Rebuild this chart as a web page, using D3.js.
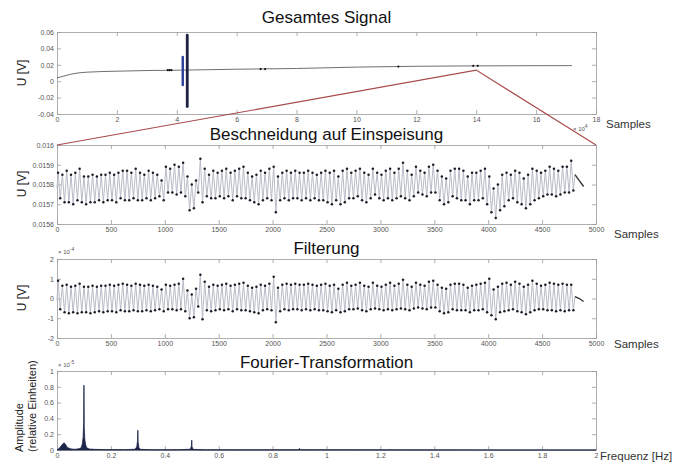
<!DOCTYPE html>
<html>
<head>
<meta charset="UTF-8">
<title>Signal</title>
<script src="https://d3js.org/d3.v7.min.js"></script>
<style>
    body { margin: 0; background: #fff; }
    svg { display: block; font-family: "Liberation Sans", Arial, sans-serif; }
    .ax text { font-size: 7px; fill: #555; font-family: "Liberation Sans", Arial, sans-serif; }
    .ax line, .ax path { stroke: #9a9a9a; stroke-width: 0.8; }
</style>
</head>
<body>
<div id="chart"></div>
<script>

    // ---- Gesamtes Signal (x in 1e4 samples, U in V) ----
    var rawX = [0, 0.3, 0.6, 1, 2, 3, 4, 5, 6, 8, 10, 12, 14, 16, 17.2];
    var rawU = [0.004, 0.007, 0.0095, 0.011, 0.0122, 0.013, 0.0134, 0.014, 0.0146, 0.0155, 0.0172, 0.0182, 0.0187, 0.0189, 0.019];
    var spikeX = [4.2, 4.35];
    var spikeLo = [-0.0047, -0.031];
    var spikeHi = [0.0297, 0.0563];
    var markX = [3.7, 3.76, 3.82, 6.8, 6.95, 11.4, 13.9, 14.05];
    var markU = [0.0135, 0.0135, 0.0135, 0.0148, 0.0148, 0.0178, 0.0188, 0.0188];
    var zoomAt = { x: 14, u: 0.0135 };   // where the cut window sits in the whole signal

    // ---- Beschneidung auf Einspeisung (U in mV), one peak and one trough per cycle ----
    var cycleLen = 40;
    var peaks2 = [15.86, 15.85, 15.87, 15.85, 15.86, 15.88, 15.84, 15.84, 15.85, 15.84, 15.85,
        15.85, 15.86, 15.85, 15.86, 15.87, 15.87, 15.86, 15.88, 15.86, 15.85,
        15.87, 15.86, 15.85, 15.82,
        15.89, 15.88, 15.90, 15.89, 15.91,
        15.84, 15.80, 15.82, 15.93, 15.88, 15.85,
        15.87, 15.86, 15.87, 15.88, 15.86, 15.87, 15.88, 15.89, 15.86,
        15.84, 15.85, 15.87, 15.86, 15.88,
        15.89, 15.84,
        15.86, 15.87, 15.86, 15.87, 15.86, 15.86, 15.87, 15.86, 15.85, 15.86,
        15.87, 15.86, 15.87, 15.84, 15.87, 15.88, 15.86, 15.87, 15.88, 15.86,
        15.85, 15.88, 15.86, 15.85, 15.87, 15.88, 15.86, 15.88, 15.91, 15.87,
        15.85, 15.89, 15.87, 15.86, 15.89, 15.90, 15.87, 15.84, 15.83, 15.87,
        15.88, 15.88, 15.87, 15.84, 15.86, 15.86, 15.87, 15.88, 15.84, 15.78,
        15.80, 15.85, 15.86, 15.85, 15.87, 15.86, 15.83, 15.85, 15.88, 15.87,
        15.86, 15.87, 15.89, 15.88, 15.87, 15.89, 15.89, 15.92];
    var troughs2 = [15.73, 15.71, 15.71, 15.70, 15.72, 15.71, 15.70, 15.71, 15.71, 15.72, 15.71,
        15.72, 15.72, 15.71, 15.73, 15.72, 15.72, 15.73, 15.72, 15.72, 15.73,
        15.72, 15.73, 15.74, 15.72,
        15.76, 15.76, 15.75, 15.76, 15.74,
        15.67, 15.68, 15.76, 15.71, 15.74, 15.73,
        15.73, 15.74, 15.73, 15.74, 15.72, 15.74, 15.73, 15.73, 15.72,
        15.71, 15.70, 15.72, 15.73, 15.72,
        15.66, 15.72,
        15.73, 15.72, 15.73, 15.73, 15.72, 15.73, 15.72, 15.73, 15.72, 15.72,
        15.71, 15.70, 15.72, 15.70, 15.71, 15.73, 15.73, 15.74, 15.72, 15.71,
        15.73, 15.75, 15.73, 15.72, 15.73, 15.72, 15.73, 15.74, 15.73, 15.72,
        15.74, 15.76, 15.75, 15.74, 15.76, 15.76, 15.72, 15.70, 15.71, 15.74,
        15.73, 15.72, 15.72, 15.70, 15.72, 15.72, 15.73, 15.70, 15.66, 15.63,
        15.67, 15.69, 15.72, 15.73, 15.71, 15.70, 15.68, 15.70, 15.72, 15.73,
        15.74, 15.75, 15.75, 15.74, 15.75, 15.76, 15.76, 15.77];
    var start2 = 15.78;
    var tailS2 = [4805, 4845, 4885];
    var tailU2 = [15.85, 15.82, 15.79];

    // ---- Filterung (U in 1e-4 V) ----
    var peaks3 = [0.9, 0.65, 0.7, 0.6, 0.65, 0.75, 0.6, 0.6, 0.65, 0.6, 0.65,
        0.65, 0.7, 0.65, 0.7, 0.75, 0.7, 0.65, 0.75, 0.7, 0.65,
        0.7, 0.65, 0.6, 0.45,
        0.7, 0.65, 0.7, 0.75, 1.0,
        0.4, 0.2, 0.5, 1.2, 0.85, 0.6,
        0.7, 0.65, 0.7, 0.75, 0.65, 0.7, 0.75, 0.8, 0.65,
        0.55, 0.6, 0.7, 0.65, 0.75,
        1.1, 0.55,
        0.7, 0.75, 0.7, 0.75, 0.7, 0.7, 0.75, 0.7, 0.65, 0.7,
        0.75, 0.65, 0.7, 0.5, 0.7, 0.8, 0.65, 0.7, 0.8, 0.65,
        0.6, 0.8, 0.65, 0.6, 0.7, 0.8, 0.65, 0.75, 0.95, 0.7,
        0.6, 0.8, 0.7, 0.65, 0.85, 0.9, 0.7, 0.55, 0.5, 0.7,
        0.75, 0.75, 0.7, 0.55, 0.65, 0.7, 0.75, 0.8, 1.0, 0.45,
        0.6, 0.75, 0.8, 0.7, 0.85, 0.75, 0.6, 0.7, 0.9, 0.75,
        0.65, 0.7, 0.8, 0.75, 0.7, 0.75, 0.7, 0.7];
    var troughs3 = [-0.55, -0.7, -0.75, -0.7, -0.75, -0.7, -0.7, -0.75, -0.7, -0.65, -0.7,
        -0.65, -0.65, -0.7, -0.6, -0.65, -0.65, -0.6, -0.65, -0.65, -0.6,
        -0.65, -0.6, -0.55, -0.65,
        -0.55, -0.55, -0.6, -0.55, -0.65,
        -1.0, -0.95, -0.4, -1.05, -0.6, -0.65,
        -0.6, -0.55, -0.6, -0.55, -0.65, -0.55, -0.6, -0.6, -0.65,
        -0.7, -0.75, -0.6, -0.55, -0.6,
        -1.2, -0.65,
        -0.55, -0.6, -0.55, -0.55, -0.6, -0.55, -0.6, -0.55, -0.6, -0.6,
        -0.65, -0.7, -0.6, -0.7, -0.65, -0.55, -0.55, -0.5, -0.6, -0.65,
        -0.55, -0.5, -0.55, -0.6, -0.55, -0.6, -0.55, -0.5, -0.55, -0.6,
        -0.5, -0.45, -0.5, -0.55, -0.45, -0.45, -0.65, -0.75, -0.7, -0.55,
        -0.6, -0.6, -0.6, -0.7, -0.6, -0.6, -0.55, -0.7, -0.85, -1.05,
        -0.7, -0.65, -0.6, -0.55, -0.65, -0.7, -0.8, -0.7, -0.6, -0.55,
        -0.55, -0.6, -0.6, -0.65, -0.6, -0.65, -0.6, -0.6];
    var start3 = -0.1;
    var tailS3 = [4805, 4845, 4885];
    var tailU3 = [0.1, 0.0, -0.15];

    // ---- Fourier-Transformation (f in Hz, amplitude in 1e-5) ----
    var fftF = [0, 0.008, 0.015, 0.02, 0.025, 0.03, 0.035, 0.04, 0.05, 0.06,
        0.07, 0.08, 0.09, 0.094, 0.097, 0.099, 0.1, 0.101, 0.103, 0.106,
        0.11, 0.12, 0.14, 0.18, 0.25, 0.29, 0.296, 0.299, 0.3, 0.301,
        0.304, 0.31, 0.35, 0.45, 0.495, 0.499, 0.5, 0.501, 0.505, 0.55,
        0.7, 0.895, 0.9, 0.905, 1.2, 1.6, 2];
    var fftA = [0, 0.02, 0.05, 0.07, 0.09, 0.08, 0.05, 0.03, 0.015, 0.01,
        0.01, 0.015, 0.03, 0.08, 0.16, 0.35, 0.82, 0.3, 0.14, 0.07,
        0.03, 0.012, 0.008, 0.005, 0.004, 0.01, 0.04, 0.12, 0.25, 0.1,
        0.03, 0.008, 0.004, 0.003, 0.01, 0.05, 0.125, 0.04, 0.008, 0.003,
        0.002, 0.003, 0.02, 0.003, 0.002, 0.001, 0.001];

    var titles = ["Gesamtes Signal", "Beschneidung auf Einspeisung", "Filterung", "Fourier-Transformation"];

    // ---- layout ----
    var L = 57, W = 539;
    var svg = d3.select("#chart").append("svg")
        .attr("width", 680).attr("height", 469);
    svg.append("rect").attr("width", 680).attr("height", 469).attr("fill", "#fff");

    function num(d) { return String(+d.toFixed(4)); }

    function panel(top, h, xd, yd, xt, yt, xf, yf) {
        var g = svg.append("g").attr("transform", "translate(" + L + "," + top + ")");
        var x = d3.scaleLinear().domain(xd).range([0, W]);
        var y = d3.scaleLinear().domain(yd).range([h, 0]);
        g.append("rect").attr("width", W).attr("height", h).attr("fill", "#fff");
        g.append("g").attr("class", "ax").attr("transform", "translate(0," + h + ")")
            .call(d3.axisBottom(x).tickValues(xt).tickSizeInner(-4).tickSizeOuter(0).tickPadding(3).tickFormat(xf));
        g.append("g").attr("class", "ax")
            .call(d3.axisTop(x).tickValues(xt).tickSizeInner(-4).tickSizeOuter(0).tickFormat(""));
        g.append("g").attr("class", "ax")
            .call(d3.axisLeft(y).tickValues(yt).tickSizeInner(-4).tickSizeOuter(0).tickPadding(3).tickFormat(yf));
        g.append("g").attr("class", "ax").attr("transform", "translate(" + W + ",0)")
            .call(d3.axisRight(y).tickValues(yt).tickSizeInner(-4).tickSizeOuter(0).tickFormat(""));
        return { g: g, x: x, y: y, top: top, h: h };
    }

    function title(txt, baseline) {
        svg.append("text").attr("x", L + W / 2).attr("y", baseline)
            .attr("text-anchor", "middle").style("font-size", "17px").attr("fill", "#111")
            .text(txt);
    }

    function ylabel(txt, cy) {
        svg.append("text").attr("transform", "translate(26," + cy + ") rotate(-90)")
            .attr("text-anchor", "middle").style("font-size", "12px").attr("fill", "#222")
            .text(txt);
    }

    function xlabel(txt, x, baseline) {
        svg.append("text").attr("x", x).attr("y", baseline)
            .style("font-size", "11.5px").attr("fill", "#333").text(txt);
    }

    function expo(txt, sup, x, y) {
        var t = svg.append("text").attr("x", x).attr("y", y)
            .style("font-size", "6px").attr("fill", "#555").text(txt);
        t.append("tspan").attr("dy", -3).style("font-size", "5px").text(sup);
    }

    // zigzag from per-cycle peaks and troughs
    function cycles(peaks, troughs, startU, tailS, tailU) {
        var pts = [[0, startU]];
        var ext = [];
        peaks.forEach(function (p, k) {
            pts.push([k * cycleLen + 10, p]);
            pts.push([k * cycleLen + 30, troughs[k]]);
            ext.push([k * cycleLen + 10, p]);
            ext.push([k * cycleLen + 30, troughs[k]]);
        });
        var tail = tailS.map(function (s, i) { return [s, tailU[i]]; });
        return { pts: pts, ext: ext, tail: tail };
    }

    function drawCycles(p, c) {
        var line = d3.line().x(function (d) { return p.x(d[0]); }).y(function (d) { return p.y(d[1]); });
        p.g.append("path").datum(c.pts.concat([c.tail[0]])).attr("d", line)
            .attr("fill", "none").attr("stroke", "#b9bcc8").attr("stroke-width", 1);
        p.g.append("path").datum(c.tail).attr("d", line)
            .attr("fill", "none").attr("stroke", "#333").attr("stroke-width", 1.4);
        p.g.selectAll("circle.ext").data(c.ext).enter().append("circle")
            .attr("cx", function (d) { return p.x(d[0]); })
            .attr("cy", function (d) { return p.y(d[1]); })
            .attr("r", 1.25).attr("fill", "#1d1d26");
    }

    // ---- panel 1 ----
    var p1 = panel(32, 82, [0, 18], [-0.04, 0.06], d3.range(0, 19, 2), d3.range(-0.04, 0.061, 0.02).map(function (v) { return +v.toFixed(2); }), num, num);
    var raw = rawX.map(function (v, i) { return [v, rawU[i]]; });
    p1.g.append("path").datum(raw)
        .attr("d", d3.line().curve(d3.curveMonotoneX).x(function (d) { return p1.x(d[0]); }).y(function (d) { return p1.y(d[1]); }))
        .attr("fill", "none").attr("stroke", "#4a4a4a").attr("stroke-width", 0.8);
    p1.g.selectAll("circle.m").data(markX).enter().append("circle")
        .attr("cx", function (d) { return p1.x(d); })
        .attr("cy", function (d, i) { return p1.y(markU[i]); })
        .attr("r", 1.1).attr("fill", "#111");
    p1.g.selectAll("line.spike").data(spikeX).enter().append("line")
        .attr("x1", function (d) { return p1.x(d); }).attr("x2", function (d) { return p1.x(d); })
        .attr("y1", function (d, i) { return p1.y(spikeLo[i]); })
        .attr("y2", function (d, i) { return p1.y(spikeHi[i]); })
        .attr("stroke", function (d, i) { return i === 0 ? "#2a3fa0" : "#1c2240"; })
        .attr("stroke-width", function (d, i) { return i === 0 ? 2.4 : 2.8; })
        .attr("stroke-linecap", "round");

    // ---- panel 2 ----
    var p2 = panel(145, 79, [0, 5000], [15.6, 16.0], d3.range(0, 5001, 500), [15.6, 15.7, 15.8, 15.9, 16.0], num,
        function (v) { return num(v / 1000); });
    drawCycles(p2, cycles(peaks2, troughs2, start2, tailS2, tailU2));

    // ---- panel 3 ----
    var p3 = panel(259, 79, [0, 5000], [-2, 2], d3.range(0, 5001, 500), [-2, -1, 0, 1, 2], num, num);
    drawCycles(p3, cycles(peaks3, troughs3, start3, tailS3, tailU3));

    // ---- panel 4 ----
    var p4 = panel(371, 79, [0, 2], [0, 1], d3.range(0, 2.01, 0.2).map(function (v) { return +v.toFixed(1); }),
        d3.range(0, 1.01, 0.2).map(function (v) { return +v.toFixed(1); }), num, num);
    var fft = fftF.map(function (f, i) { return [f, fftA[i]]; });
    p4.g.append("path").datum(fft)
        .attr("d", d3.area().x(function (d) { return p4.x(d[0]); }).y0(p4.h).y1(function (d) { return p4.y(d[1]); }))
        .attr("fill", "#1c2448").attr("stroke", "#1c2448").attr("stroke-width", 0.8);

    // ---- zoom window lines (cut region of the whole signal) ----
    var zx = L + p1.x(zoomAt.x), zy = p1.top + p1.y(zoomAt.u);
    svg.append("path")
        .attr("d", "M" + (L + p2.x(0)) + "," + p2.top + "L" + zx + "," + zy + "L" + (L + p2.x(5000)) + "," + p2.top)
        .attr("fill", "none").attr("stroke", "#a9494a").attr("stroke-width", 1.1);

    // ---- text ----
    title(titles[0], 23);
    title(titles[1], 140);
    title(titles[2], 254);
    title(titles[3], 368);

    ylabel("U [V]", 73);
    ylabel("U [V]", 184);
    ylabel("U [V]", 298);
    svg.append("text").attr("transform", "translate(23,452) rotate(-90)")
        .style("font-size", "11px").attr("fill", "#222").text("Amplitude");
    svg.append("text").attr("transform", "translate(36,452) rotate(-90)")
        .style("font-size", "11px").attr("fill", "#222").text("(relative Einheiten)");

    xlabel("Samples", 606, 128);
    xlabel("Samples", 614, 238);
    xlabel("Samples", 614, 348);
    xlabel("Frequenz [Hz]", 600, 460);

    expo("\u00d7 10", "4", 573, 131);
    expo("\u00d7 10", "-4", 58, 254);
    expo("\u00d7 10", "-5", 58, 367);

</script>
</body>
</html>
